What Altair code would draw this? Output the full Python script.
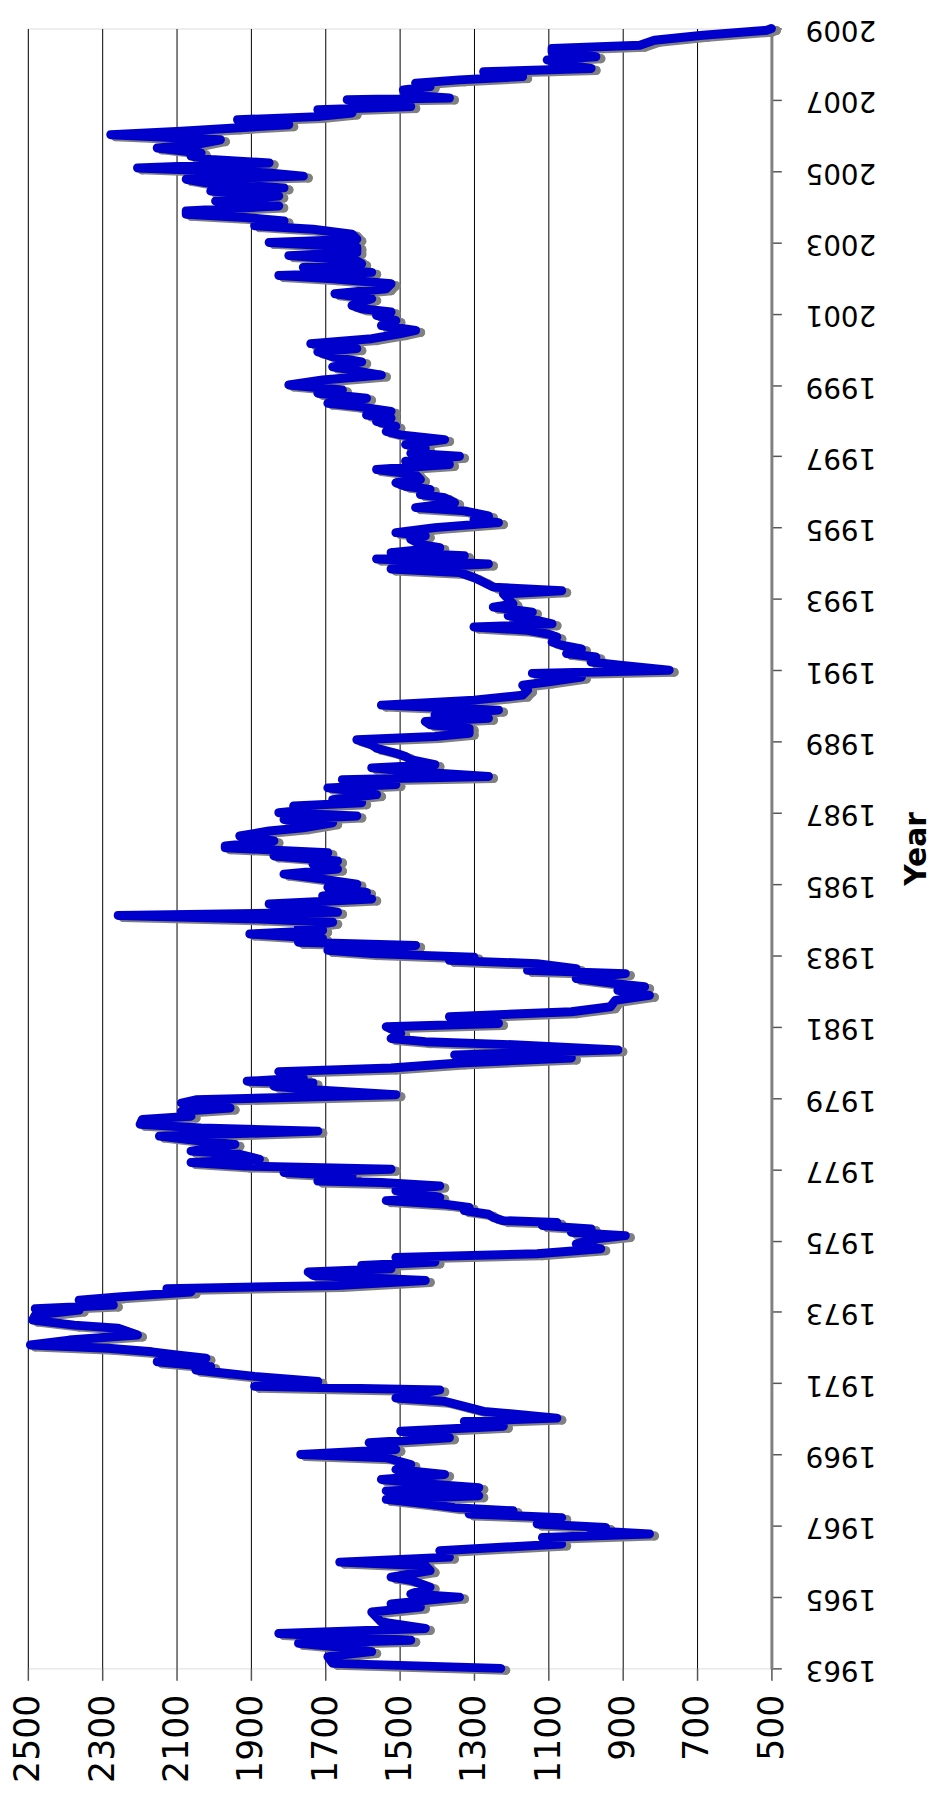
import altair as alt
import pandas as pd

# Monthly series (decimal year, value)
t_1963 = [1963.00, 1963.14, 1963.33, 1963.47, 1963.56, 1963.70, 1963.79, 1963.98, 1964.12, 1964.30,
          1964.44, 1964.58, 1964.72, 1964.81, 1965.00, 1965.09, 1965.28, 1965.47, 1965.56, 1965.74,
          1965.88, 1965.98, 1966.12, 1966.30, 1966.49, 1966.67, 1966.77, 1966.86, 1966.95, 1967.05,
          1967.23, 1967.33, 1967.42, 1967.51, 1967.60, 1967.74, 1967.84, 1967.98, 1968.07, 1968.16,
          1968.30, 1968.44, 1968.58, 1968.72, 1968.91, 1969.00, 1969.14, 1969.33, 1969.47, 1969.65,
          1969.79, 1969.93, 1970.02, 1970.21, 1970.35, 1970.49, 1970.58]
v_1963 = [1228, 1680, 1693, 1575, 1628, 1772, 1470, 1825, 1431, 1549,
          1562, 1575, 1444, 1523, 1339, 1470, 1418, 1470, 1523, 1418,
          1431, 1661, 1366, 1392, 1064, 1116, 828, 985, 946, 1130,
          1064, 1313, 1195, 1352, 1418, 1536, 1287, 1536, 1287, 1405,
          1549, 1379, 1510, 1470, 1536, 1766, 1510, 1582, 1366, 1497,
          1221, 1326, 1077, 1274, 1326, 1379, 1510]

t_1970 = [1970.81, 1970.91, 1971.05, 1971.19, 1971.28, 1971.37, 1971.46, 1971.60, 1971.70, 1971.79,
          1971.88, 1971.98, 1972.07, 1972.21, 1972.35, 1972.54, 1972.63, 1972.77, 1972.91, 1973.05,
          1973.09, 1973.19, 1973.33, 1973.42, 1973.56, 1973.65, 1973.74, 1973.88, 1974.02, 1974.12,
          1974.21, 1974.30, 1974.40, 1974.53, 1974.63, 1974.77, 1974.91, 1975.05, 1975.14, 1975.23,
          1975.33, 1975.42, 1975.51, 1975.56, 1975.65, 1975.74, 1975.84, 1975.93, 1976.02, 1976.12,
          1976.21, 1976.30, 1976.40, 1976.53, 1976.63, 1976.67, 1976.81, 1976.91, 1977.00, 1977.09,
          1977.19, 1977.28, 1977.42, 1977.51, 1977.70, 1977.79, 1977.93, 1978.07, 1978.16, 1978.26]
v_1970 = [1392, 1890, 1720, 1890, 1969, 2048, 2008, 2152, 2021, 2100,
          2166, 2284, 2493, 2389, 2205, 2257, 2375, 2487, 2480, 2362,
          2480, 2270, 2362, 2257, 2061, 2126, 1667, 1431, 1733, 1746,
          1523, 1602, 1405, 1510, 1130, 959, 1025, 972, 893, 1038,
          985, 1116, 1077, 1221, 1248, 1261, 1326, 1313, 1379, 1536,
          1392, 1431, 1510, 1392, 1549, 1720, 1628, 1811, 1523, 1916,
          2061, 1877, 1930, 2061, 1943, 2034, 2146, 1720, 2034, 2198]

t_1978 = [1978.40, 1978.49, 1978.63, 1978.72, 1978.86, 1978.95, 1979.09, 1979.23, 1979.33, 1979.42,
          1979.47, 1979.56, 1979.74, 1979.84, 1979.98, 1980.12, 1980.21, 1980.35, 1980.49, 1980.58,
          1980.67, 1980.81, 1981.00, 1981.09, 1981.28, 1981.42, 1981.56, 1981.74, 1981.88, 1982.02,
          1982.12, 1982.21, 1982.35, 1982.49, 1982.58, 1982.63, 1982.77, 1982.86, 1982.95, 1983.05,
          1983.14, 1983.28, 1983.37, 1983.47, 1983.60, 1983.70, 1983.79, 1983.93, 1984.02, 1984.12,
          1984.21, 1984.35, 1984.44, 1984.58, 1984.67, 1984.77, 1984.91, 1985.00, 1985.14, 1985.28,
          1985.42, 1985.56, 1985.65, 1985.79, 1985.88, 1986.02]
v_1978 = [2192, 2061, 2087, 1956, 2087, 2048, 1510, 1733, 1838, 1733,
          1910, 1759, 1825, 1523, 1339, 1038, 1352, 913, 1182, 1431,
          1523, 1497, 1536, 1234, 1366, 1038, 933, 920, 828, 913,
          841, 920, 1025, 893, 1156, 1025, 1130, 1366, 1300, 1575,
          1693, 1457, 1772, 1707, 1903, 1707, 1772, 1680, 1877, 2257,
          1667, 1759, 1851, 1575, 1707, 1589, 1693, 1615, 1707, 1811,
          1667, 1733, 1667, 1838, 1693, 1969]

t_1986 = [1986.07, 1986.21, 1986.35, 1986.49, 1986.58, 1986.72, 1986.81, 1986.91, 1987.00, 1987.09,
          1987.19, 1987.28, 1987.37, 1987.51, 1987.60, 1987.70, 1987.79, 1987.93, 1988.02, 1988.16,
          1988.26, 1988.35, 1988.49, 1988.58, 1988.67, 1988.81, 1988.91, 1989.05, 1989.14, 1989.23,
          1989.37, 1989.47, 1989.56, 1989.65, 1989.74, 1989.88, 1990.02, 1990.16, 1990.30, 1990.44,
          1990.58, 1990.67, 1990.81, 1990.91, 1991.00, 1991.14, 1991.23, 1991.37, 1991.47, 1991.60,
          1991.70, 1991.79, 1991.93, 1992.02, 1992.12, 1992.21, 1992.30, 1992.40, 1992.53, 1992.63,
          1992.77, 1992.86, 1993.00, 1993.14, 1993.23, 1993.33, 1993.47, 1993.60]
v_1986 = [1969, 1838, 1930, 1851, 1759, 1680, 1811, 1615, 1825, 1746,
          1785, 1602, 1680, 1562, 1615, 1693, 1510, 1654, 1261, 1470,
          1575, 1405, 1470, 1484, 1510, 1562, 1575, 1615, 1405, 1313,
          1313, 1418, 1431, 1261, 1405, 1234, 1549, 1300, 1169, 1156,
          1169, 1103, 1011, 1143, 775, 907, 985, 972, 1051, 1011,
          1064, 1090, 1077, 1103, 1156, 1300, 1090, 1130, 1208, 1143,
          1248, 1195, 1208, 1221, 1064, 1248, 1274, 1300]

t_1993 = [1993.74, 1993.84, 1993.98, 1994.12, 1994.21, 1994.30, 1994.44, 1994.53, 1994.67, 1994.77,
          1994.86, 1995.00, 1995.14, 1995.23, 1995.33, 1995.47, 1995.56, 1995.70, 1995.84, 1995.93,
          1996.07, 1996.16, 1996.26, 1996.35, 1996.49, 1996.63, 1996.77, 1996.86, 1997.00, 1997.09,
          1997.23, 1997.33, 1997.47, 1997.60, 1997.70, 1997.84, 1997.98, 1998.07, 1998.16, 1998.26,
          1998.40, 1998.49, 1998.63, 1998.77, 1998.86, 1999.00, 1999.14, 1999.28, 1999.42, 1999.51,
          1999.65, 1999.79, 1999.93, 2000.02, 2000.16, 2000.30, 2000.44, 2000.53, 2000.67, 2000.81,
          2000.95, 2001.05, 2001.14, 2001.23, 2001.33]
v_1993 = [1339, 1523, 1261, 1562, 1326, 1523, 1392, 1444, 1470, 1431,
          1510, 1405, 1234, 1300, 1261, 1326, 1457, 1352, 1379, 1444,
          1418, 1484, 1510, 1444, 1457, 1562, 1366, 1484, 1339, 1470,
          1431, 1484, 1379, 1497, 1536, 1510, 1562, 1523, 1589, 1523,
          1615, 1693, 1589, 1720, 1654, 1798, 1707, 1549, 1628, 1680,
          1602, 1680, 1720, 1615, 1739, 1575, 1497, 1457, 1549, 1510,
          1562, 1523, 1602, 1628, 1602]

t_2001 = [2001.42, 2001.56, 2001.70, 2001.84, 2001.98, 2002.07, 2002.16, 2002.30, 2002.40, 2002.49,
          2002.63, 2002.72, 2002.86, 2003.00, 2003.09, 2003.23, 2003.37, 2003.47, 2003.60, 2003.70,
          2003.79, 2003.88, 2004.02, 2004.16, 2004.30, 2004.44, 2004.53, 2004.67, 2004.77, 2004.86,
          2004.95, 2005.09, 2005.23, 2005.33, 2005.42, 2005.51, 2005.65, 2005.74, 2005.88, 2006.02,
          2006.12, 2006.21, 2006.30, 2006.44, 2006.53, 2006.63, 2006.72, 2006.81, 2006.91, 2007.00,
          2007.05, 2007.14, 2007.28, 2007.37, 2007.47, 2007.56, 2007.65, 2007.79, 2007.88, 2007.98,
          2008.12, 2008.21, 2008.35, 2008.44, 2008.53, 2008.67, 2008.81, 2008.95, 2009.00]
v_2001 = [1575, 1674, 1536, 1523, 1680, 1825, 1575, 1759, 1602, 1615,
          1798, 1615, 1615, 1851, 1615, 1628, 1733, 1890, 1811, 1916,
          2074, 2074, 1825, 1995, 1825, 2008, 1811, 2021, 2074, 1759,
          1851, 2205, 1851, 2008, 2061, 2034, 2152, 2048, 1982, 2277,
          2087, 1943, 1798, 1936, 1720, 1628, 1720, 1470, 1549, 1641,
          1366, 1484, 1490, 1418, 1457, 1339, 1169, 1274, 985, 1051,
          1103, 972, 1090, 1090, 854, 815, 684, 513, 500]

x_ticks = [2500, 2300, 2100, 1900, 1700, 1500, 1300, 1100, 900, 700, 500]
year_ticks = list(range(1963, 2010, 2))

t_all = t_1963 + t_1970 + t_1978 + t_1986 + t_1993 + t_2001
v_all = v_1963 + v_1970 + v_1978 + v_1986 + v_1993 + v_2001
df = pd.DataFrame({"t": t_all, "v": v_all})

FONT = "DejaVu Sans"
W, H = 750, 1654

base = alt.Chart(df).encode(
    x=alt.X("v:Q",
            scale=alt.Scale(domain=[500, 2500], reverse=True, nice=False, zero=False),
            axis=alt.Axis(values=x_ticks, format="d", title=None, labelAngle=270,
                          labelFontSize=35, labelColor="black", labelFont=FONT,
                          labelPadding=14, tickSize=12, tickColor="#555555", tickWidth=1.5,
                          grid=True, gridColor="black", gridWidth=1,
                          domain=False, labelOverlap=False)),
    y=alt.Y("t:Q",
            scale=alt.Scale(domain=[1963, 2009], nice=False, zero=False),
            axis=alt.Axis(values=year_ticks, format="d", orient="right", title="Year",
                          titleAngle=270, titleFontSize=30, titleFontWeight="bold",
                          titleFont=FONT, titleColor="black",
                          titleX=146, titleY=H / 2, titleAlign="center",
                          titleBaseline="middle",
                          labelAngle=180, labelFontSize=28, labelColor="black",
                          labelFont=FONT, labelPadding=24, tickSize=10,
                          tickColor="#555555", tickWidth=1.5, grid=False,
                          domainColor="#808080", domainWidth=3, labelOverlap=False)),
    order=alt.Order("t:Q"),
)

shadow_line = base.mark_line(color="#808080", strokeWidth=9, strokeCap="round",
                             strokeJoin="round", xOffset=5, yOffset=2)
shadow_pts = base.mark_circle(color="#808080", size=85, opacity=1, xOffset=5, yOffset=2)
blue_line = base.mark_line(color="#0000CC", strokeWidth=9, strokeCap="round",
                           strokeJoin="round")

chart = alt.layer(shadow_line, shadow_pts, blue_line).properties(
    width=W, height=H,
    autosize=alt.AutoSizeParams(type="none"),
    padding={"left": 20, "top": 13, "right": 165, "bottom": 120},
).configure_view(stroke="#808080", strokeWidth=3).configure(background="white")

chart.save("out.html", embed_options={"renderer": "svg", "actions": False})
